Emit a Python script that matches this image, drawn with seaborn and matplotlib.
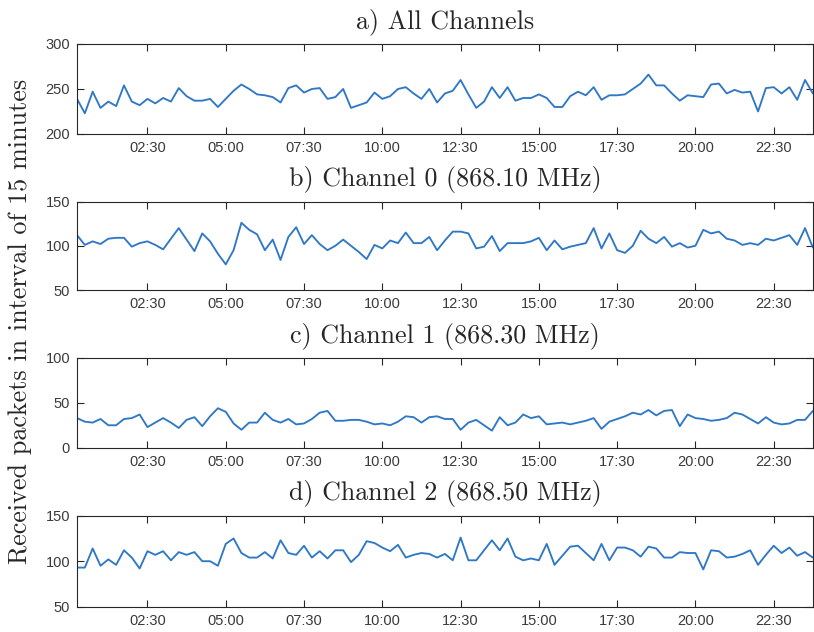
import matplotlib
matplotlib.use("Agg")
import matplotlib.pyplot as plt
import seaborn as sns
import pandas as pd
import numpy as np

# ---------------- data ----------------
tick_labels = ["02:30", "05:00", "07:30", "10:00", "12:30", "15:00", "17:30", "20:00", "22:30"]
titles = ["a) All Channels", "b) Channel 0 (868.10 MHz)",
          "c) Channel 1 (868.30 MHz)", "d) Channel 2 (868.50 MHz)"]
ylims = [(200, 300), (50, 150), (0, 100), (50, 150)]
yticks = [[200, 250, 300], [50, 100, 150], [0, 50, 100], [50, 100, 150]]
ylabel = "Received packets in interval of 15 minutes"

all_channels = [239, 223, 247, 229, 236, 231, 254, 236, 232, 239, 234, 240, 236, 251, 242, 237,
                237, 239, 230, 239, 248, 255, 250, 244, 243, 241, 235, 251, 254, 246, 250, 251,
                239, 241, 250, 229, 232, 235, 246, 239, 242, 250, 252, 245, 239, 250, 235, 245,
                248, 260, 244, 229, 236, 252, 240, 252, 237, 240, 240, 244, 240, 230, 230, 242,
                247, 243, 252, 238, 243, 243, 244, 250, 256, 266, 254, 254, 245, 237, 243, 242,
                241, 255, 256, 245, 249, 246, 247, 225, 251, 252, 245, 252, 238, 260, 245]
channel0 = [112, 101, 105, 102, 108, 109, 109, 99, 103, 105, 101, 96, 108, 120, 107, 94,
            114, 105, 91, 79, 95, 126, 118, 113, 95, 107, 84, 110, 121, 102, 112, 102,
            95, 100, 107, 100, 93, 85, 101, 97, 106, 103, 115, 103, 103, 110, 95, 106,
            116, 116, 114, 97, 99, 111, 94, 103, 103, 103, 105, 109, 95, 106, 96, 99,
            101, 103, 120, 97, 114, 95, 92, 100, 117, 108, 103, 110, 99, 103, 98, 100,
            118, 114, 116, 108, 106, 101, 103, 101, 108, 106, 109, 112, 101, 120, 98]
channel1 = [33, 29, 28, 32, 25, 25, 32, 33, 37, 23, 28, 33, 28, 22, 31, 34,
            24, 35, 44, 40, 27, 20, 28, 28, 39, 31, 28, 32, 26, 27, 32, 39,
            41, 30, 30, 31, 31, 29, 26, 27, 25, 29, 35, 34, 28, 34, 35, 32,
            32, 20, 28, 31, 25, 19, 34, 25, 28, 37, 33, 35, 26, 27, 28, 26,
            28, 30, 33, 21, 29, 32, 35, 39, 37, 42, 36, 41, 42, 24, 37, 33,
            32, 30, 31, 33, 39, 37, 32, 27, 34, 28, 26, 27, 31, 31, 41]
channel2 = [93, 93, 114, 95, 102, 96, 112, 104, 92, 111, 107, 111, 101, 110, 107, 110,
            100, 100, 95, 119, 125, 109, 104, 104, 110, 103, 123, 109, 107, 117, 104, 111,
            103, 112, 112, 99, 107, 122, 120, 115, 111, 118, 104, 107, 109, 108, 104, 108,
            101, 126, 101, 101, 112, 123, 112, 125, 105, 101, 103, 101, 119, 96, 106, 116,
            117, 109, 101, 119, 101, 115, 115, 112, 105, 116, 114, 104, 104, 110, 109, 109,
            91, 112, 111, 104, 105, 108, 112, 96, 107, 117, 109, 115, 106, 110, 104]
series = [all_channels, channel0, channel1, channel2]

# time of each 15-minute interval (hours), 00:15 ... 23:45
hours = [0.25 * (i + 1) for i in range(len(all_channels))]

# ---------------- style ----------------
sns.set_style("ticks")
plt.rcParams["font.family"] = ["Liberation Sans", "DejaVu Sans"]
serif = ["cmr10", "DejaVu Serif"]
line_blue = "#2f78c6"
dark = "#262626"
tick_grey = "#3a3a3a"

fig = plt.figure(figsize=(8.14, 6.32), dpi=100)
# [left, bottom, width, height] in figure fraction
positions = [
    [0.0946, 0.7880, 0.9040, 0.1424],
    [0.0946, 0.5411, 0.9040, 0.1400],
    [0.0946, 0.2916, 0.9040, 0.1420],
    [0.0946, 0.0400, 0.9040, 0.1440],
]

def to_hours(lbl):
    h, m = lbl.split(":")
    return int(h) + int(m) / 60

tick_pos = [to_hours(t) for t in tick_labels]

for k in range(4):
    ax = fig.add_axes(positions[k])
    df = pd.DataFrame({"t": hours, "v": series[k]})
    sns.lineplot(data=df, x="t", y="v", ax=ax, color=line_blue, linewidth=1.35)
    ax.set_xlim(hours[0], hours[-1])
    ax.set_ylim(*ylims[k])
    ax.set_yticks(yticks[k])
    ax.set_xticks(tick_pos)
    ax.set_xticklabels(tick_labels)
    ax.set_xlabel("")
    ax.set_ylabel("")
    for s in ax.spines.values():
        s.set_visible(True)
        s.set_color(dark)
        s.set_linewidth(0.8)
    ax.tick_params(direction="in", length=5.3, width=0.8, colors=dark,
                   labelcolor=tick_grey, labelsize=10.5, top=True, right=True, pad=5)
    ax.set_title(titles[k], family=serif, fontsize=18.7, color=dark, pad=11)

fig.text(0.0246, 0.492, ylabel, rotation=90, va="center", ha="center",
         family=serif, fontsize=18.8, color=dark)

fig.savefig("out.png", dpi=100)
